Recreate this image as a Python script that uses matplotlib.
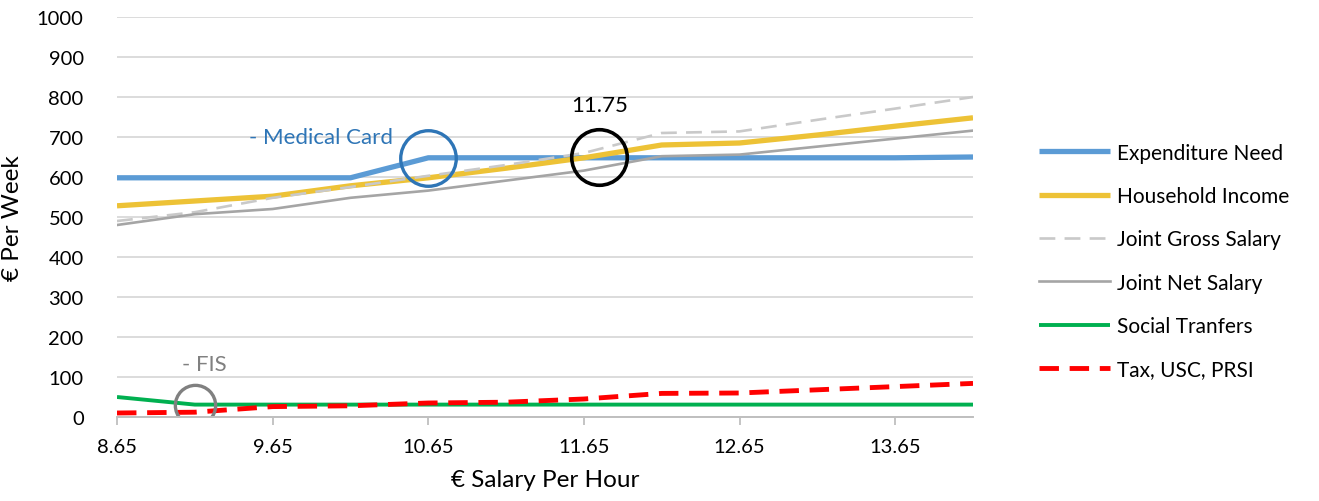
import matplotlib.pyplot as plt
import numpy as np

plt.rcParams['font.family'] = ['Lato', 'DejaVu Sans']

# hourly salary steps (0.5 apart) and weekly amounts
salary = [8.65, 9.15, 9.65, 10.15, 10.65, 11.15, 11.65, 12.15, 12.65, 13.15, 13.65, 14.15]
expenditure_need = [598, 598, 598, 598, 648, 648, 648, 648, 648, 648, 648, 650]
household_income = [528, 540, 552, 578, 598, 622, 648, 680, 685, 705, 727, 748]
joint_gross = [490, 512, 548, 575, 603, 630, 660, 710, 714, 743, 771, 800]
joint_net = [480, 507, 520, 548, 566, 591, 616, 652, 656, 676, 696, 716]
social_transfers = [50, 31, 31, 31, 31, 31, 31, 31, 31, 31, 31, 31]
tax_usc_prsi = [10, 12, 26, 28, 35, 37, 45, 59, 60, 68, 76, 84]

tick_labels = ['8.65', '9.65', '10.65', '11.65', '12.65', '13.65']

fig = plt.figure(figsize=(13.19, 5.02), dpi=100)
ax = fig.add_axes([117 / 1319, 1 - 418 / 502, (973 - 117) / 1319, 400 / 502])

ax.plot(salary, expenditure_need, color='#5B9BD5', lw=3.8, label='Expenditure Need', solid_capstyle='butt')
ax.plot(salary, household_income, color='#EDC236', lw=3.8, label='Household Income', solid_capstyle='butt')
ax.plot(salary, joint_gross, color='#C9C9C9', lw=1.9, ls=(0, (6, 3.5)), label='Joint Gross Salary')
ax.plot(salary, joint_net, color='#A5A5A5', lw=1.9, label='Joint Net Salary')
ax.plot(salary, social_transfers, color='#00B050', lw=2.8, label='Social Tranfers', solid_capstyle='butt')
ax.plot(salary, tax_usc_prsi, color='#FF0000', lw=3.5, ls=(0, (4, 2.2)), label='Tax, USC, PRSI')

# highlight circles
ax.plot([10.65], [648], marker='o', ms=40, mfc='none', mec='#2E75B6', mew=2.4, ls='none')
ax.plot([11.75], [650], marker='o', ms=40, mfc='none', mec='black', mew=2.6, ls='none')
ax.plot([9.15], [30], marker='o', ms=29, mfc='none', mec='#808080', mew=2.4, ls='none')

ax.text(9.96, 700, '- Medical Card', color='#2E75B6', fontsize=16, ha='center', va='center')
ax.text(11.75, 780, '11.75', color='black', fontsize=16, ha='center', va='center')
ax.text(9.21, 132, '- FIS', color='#808080', fontsize=16, ha='center', va='center')

ax.set_xlim(8.65, 14.15)
ax.set_ylim(0, 1000)
ax.set_yticks(np.arange(0, 1001, 100))
ax.set_xticks([float(t) for t in tick_labels])
ax.set_xticklabels(tick_labels)
ax.grid(axis='y', color='#D9D9D9', lw=1.3)
ax.set_axisbelow(True)
for s in ['top', 'right', 'left']:
    ax.spines[s].set_visible(False)
ax.spines['bottom'].set_color('#BFBFBF')
ax.spines['bottom'].set_linewidth(1.4)
ax.tick_params(axis='y', length=0, labelsize=14.5, pad=24)
ax.tick_params(axis='x', length=6, width=1.3, color='#BFBFBF', labelsize=14.5, pad=9)

ax.set_xlabel('€ Salary Per Hour', fontsize=17.5, labelpad=10)
ax.set_ylabel('€ Per Week', fontsize=17.5, labelpad=10)

fig.legend(loc='center left', bbox_to_anchor=(1020 / 1319, 1 - 262 / 502), frameon=False,
           fontsize=15, handlelength=3.4, labelspacing=1.12, handletextpad=0.35)

fig.savefig('out.png', dpi=100)
